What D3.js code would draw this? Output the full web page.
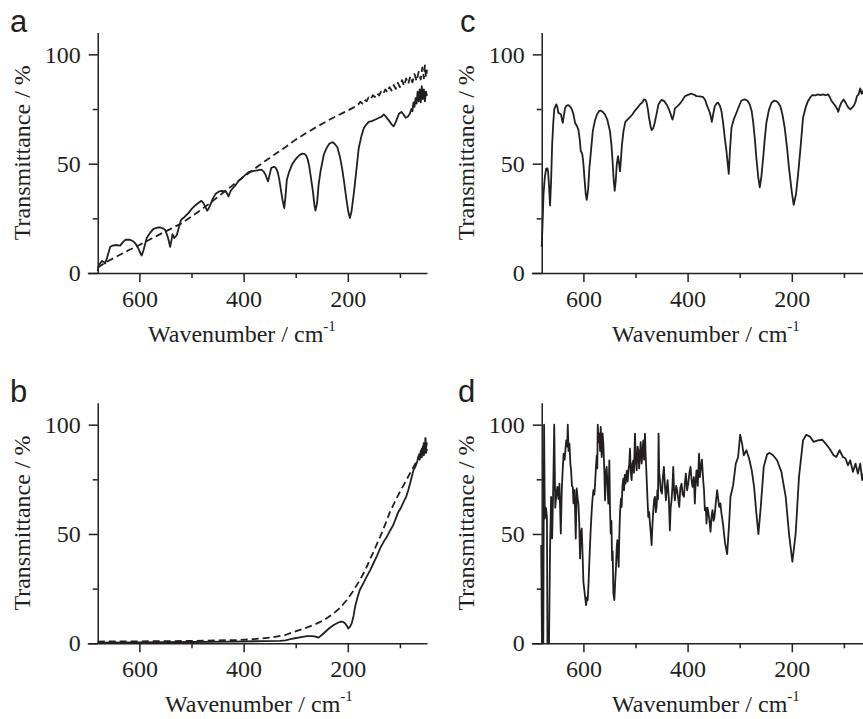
<!DOCTYPE html>
<html>
<head>
<meta charset="utf-8">
<script src="https://cdn.jsdelivr.net/npm/d3@7"></script>
<style>
  body { margin: 0; background: #fff; }
  .axis text { font-family: "Liberation Serif", "Times New Roman", serif; font-size: 24px; fill: #231f20; }
  .axis path, .axis line { stroke: #231f20; stroke-width: 1.5; }
  .title { font-family: "Liberation Serif", "Times New Roman", serif; font-size: 24px; fill: #231f20; }
  .plabel { font-family: "Liberation Sans", Arial, sans-serif; font-size: 31px; fill: #231f20; }
  .spec { fill: none; stroke: #231f20; stroke-width: 1.8; stroke-linejoin: round; }
</style>
</head>
<body>
<svg id="fig" width="863" height="719"></svg>
<script>
var svg = d3.select('#fig');

// axis values
var xDomain = [700, 48];
var yDomain = [0, 110];
var xMajor = [600, 400, 200];
var xMinor = [500, 300, 100];
var yMajor = [0, 50, 100];
var yMinor = [25, 75];
var xStart = 680;

// spectra: [wavenumber, transmittance]
var aSolid = [[680,1],[678,3.5],[672,5.5],[668,5],[666,4.3],[662,7],[656,12],[650,12.6],[643,12.8],[637,12.5],[632,14],[627,15.2],[618,15.2],[612,14.5],[608,13.6],[602,11.3],[598,9],[595.5,8],[592,10.5],[586,16],[579,18.5],[573,20.2],[565,20.8],[560,20.8],[554,20.3],[551,19.8],[547,17.5],[545,16],[541,12],[538,15.5],[536.5,17.8],[534,16.5],[533,16],[530,16.8],[528,17.5],[524,21],[520,24.3],[514,25.5],[506,27.4],[500,29.2],[493,30.9],[487,32],[481,33],[477,32],[473,30],[470,28.5],[467,29.5],[464,31.2],[459,34],[454,36.1],[448,37.2],[442,37.6],[434,37.3],[431,36],[429,35],[425,37.5],[420,39],[416,40],[410,42],[403,43.5],[396,45],[390,46.2],[384,46.5],[377,46.8],[372,47],[366,47.3],[362,46.5],[358,45],[355,43],[353,41.9],[350,45],[347,48],[343,48.5],[339,48.3],[336,47],[334,45.7],[331,42],[328,37.3],[325,33],[322,29.7],[320,34],[317,42.7],[313,46],[307,49.6],[302,51.5],[297,52.9],[292,54],[288,54.6],[284,54.5],[280,53.8],[277,52],[274,48.8],[271,44],[267,37.3],[264,31],[262,28.5],[259,32],[256,40.4],[252,47],[246,54.2],[241,57],[236,59],[232,59.6],[229,59.8],[225,59],[220,57.5],[215,53],[211,48],[207,41.5],[203,34.3],[199,28],[196,25.1],[193,28],[188,37.3],[184,46],[179,57.2],[174,62.5],[169,66.4],[164,68],[160,69.1],[154,69.5],[147,70.2],[140,71],[135,71.5],[131,72.5],[127,71.5],[121,69.7],[116,68],[112,67.1],[108,69],[102,72.8],[97,73.7],[93,72.5],[89,71],[85,71.5],[81,72.8],[78,75],[76,74],[74,78],[72,76],[70,80],[68,77.5],[66,83],[64,78.5],[62,84],[60,78],[58,85.5],[56,79.5],[54,84],[52,78.5],[50,83],[48,81]];

var aDashed = [[680,2.5],[660,5.5],[640,8],[620,10.5],[600,12.8],[580,15.3],[560,17.8],[540,20.2],[520,22.6],[500,25.8],[480,29.2],[460,32.8],[440,36.6],[420,40.3],[400,44],[380,47.5],[360,51],[340,54.3],[320,57.5],[300,61],[280,64],[260,66.8],[240,69.5],[220,72],[200,74.3],[184,76.3],[180,77],[176,78.3],[172,77.5],[168,79.3],[164,78.5],[160,80.3],[156,79.5],[152,81.3],[148,80.5],[144,82.3],[140,81.2],[136,83],[132,82],[128,84],[124,82.6],[120,85],[116,83.5],[112,86],[108,84.2],[104,87],[100,85],[96,88.2],[92,85.6],[88,89],[84,86.5],[80,90],[76,87.2],[72,91],[68,87.8],[64,92],[60,88.5],[57,94],[54,89],[52,95],[50,89.5],[48,93]];

var bSolid = [[680,0.3],[600,0.4],[500,0.6],[420,0.8],[360,1],[330,1.1],[320,1.3],[304,2.2],[290,2.8],[278,3.3],[268,3.3],[262,3],[256,2.6],[250,3.8],[243,5.3],[235,7],[227,8.4],[220,9.3],[214,9.9],[209,9.8],[205,9.1],[202,8],[199,6.8],[196,7.5],[192.5,9.1],[189,12.5],[186,16.7],[182,20.5],[177,24.4],[170,27.5],[164,30.4],[157,33.5],[151,36.5],[144,40],[138,43.4],[131,46.5],[125,48.7],[119,51.5],[113,54],[108,57],[103,60.1],[98,62],[93,64.7],[88,67],[84,70],[79,74.5],[74,79.2],[70,81],[67,83],[64,85.5],[62,84],[60,88],[58,85],[56,90],[54,86],[52,91],[50,87],[48,89]];

var bDashed = [[680,0.8],[600,0.9],[500,1.1],[412,1.5],[380,1.9],[348,2.6],[320,3.8],[304,5.2],[285,6.7],[265,8.4],[245,10.7],[227,13.7],[215,16.2],[202,19.8],[190,23.8],[177,28.9],[167,33.2],[158,38.1],[148,43.3],[138,48.7],[128,54.5],[119,60.1],[110,64.6],[100,69.3],[90,73.6],[81,77.6],[72,81.5],[66,84],[63,86.5],[60,86],[58,89],[56,87],[54,92],[52,88],[51,95],[50,89],[48,92]];

var cSolid = [[680,12],[678,25],[676.6,35.8],[674,44],[671.5,47.7],[669,47.8],[667.7,46.2],[666,40],[664,30.9],[662,42],[660,58.7],[658,68],[656,74.8],[652,77.1],[650,76],[648,73.3],[645,72.8],[643,72.5],[641,70],[639.6,68.7],[637.5,72],[635,75.6],[632,76.6],[628.7,76.8],[625,76],[622,74.8],[619,72.5],[616,68.7],[612,67],[609.6,65.6],[607,61],[605,55.7],[603,55],[602,54.2],[600,50],[598,43.5],[595.5,36],[593.6,33.5],[591,38],[588.5,48],[585,57],[582,64.9],[578,69.5],[574,72.5],[570,74],[566.8,74.3],[562,73.5],[558.5,72.5],[554,70],[549,64.9],[546,58],[544.4,52.6],[542,43],[540,37.6],[538,42],[536,49.6],[533.6,53.4],[531.5,50],[529.7,46.5],[528,52],[526,58.7],[523,65],[519.5,69.1],[515,70.3],[510.6,71.3],[506,72.5],[501,74.3],[496,75.6],[491.4,77.1],[487,78],[483.8,79.4],[481,79.2],[478.7,77.9],[476,74.5],[474,71],[471,67],[469,65.3],[466,66.2],[462.7,69.1],[459,73.5],[456,77.1],[452,78.6],[449.9,79.2],[445,78.6],[440.3,77.1],[436,75],[432.7,72.8],[430.5,71],[428.8,70.2],[426,73],[424.4,75.3],[420,76.2],[416,77.1],[410,79],[405,80.9],[398,81.6],[392.5,82],[387,81.5],[383,80.9],[377,80.8],[370,80.4],[366,79],[363.7,77.1],[360,75],[357.3,73.3],[355,71],[353.5,69.1],[351,72.5],[347.8,76.3],[344,77.6],[341.4,77.9],[338,76.5],[335,74],[332,69],[328.6,61.8],[325.4,55.7],[323,50],[321,45.3],[319,55],[315.8,66.4],[311,70.5],[306.2,73.3],[301,76.5],[296.7,78.9],[290.3,79.4],[285,78.8],[280.7,77.1],[277,74],[274.3,69.4],[271,61.5],[268,52.6],[264.5,44],[261.5,39.2],[258.5,44],[255,52.6],[252,61],[248.8,68.7],[244,74.5],[239,77.9],[234,78.8],[229.6,78.6],[226,77.8],[222,76.3],[218,72.5],[213.6,66.4],[209,57],[205.4,48],[200,37],[196.4,31.2],[192,36],[188,45],[183,58],[178.5,71],[173,76],[169,78.6],[164,80.5],[160.7,81.4],[155,81.2],[149.8,81.7],[145,81.4],[140.2,81.7],[135,81.3],[130.6,81.7],[127,80.5],[124.3,78.9],[120,77.5],[116,76.3],[113,75],[110.8,73.7],[108,76],[105,77.9],[100.6,79.4],[97,78],[94.2,76.8],[91,75.5],[87.8,74.8],[85,75.5],[81.5,76.3],[78,78],[75,80.9],[72,81.5],[68.7,84.4],[66,82],[64.2,82.4],[62,84],[60,82.5],[57,84],[54,82],[51,83.5],[48,82]];

var dSolid = [[681,45],[679.5,0],[677,0],[675.5,100],[674,57],[672,62],[670,58],[669,0],[666,0],[664,43],[662,67],[660,48],[658,70],[656,100],[654,62],[652,68],[650,71.5],[648,66],[646,73],[643.4,50.2],[641.5,70],[640,78],[638,86.7],[636,84],[633,92.8],[631,90],[630,100],[628.5,88],[626.8,91.3],[625,82],[623.6,79.1],[622,72],[620.4,71.5],[619,64],[617,70],[614.7,47.9],[612.8,70.8],[611,66],[609.6,63.9],[608,55],[606.4,38.8],[605,50],[603.2,52.5],[601.5,40],[600,28.1],[598.5,25],[596.8,21.3],[594.9,17.5],[593,21],[591.7,19.8],[590,28],[588.5,38],[586,52],[584,60.9],[582.5,66],[580.8,70],[579,68],[577.6,73],[576,80],[574.4,86],[573.3,80],[572.5,100],[571,92],[569.3,95.9],[568,88],[566.8,99],[564.9,85.2],[563.2,96],[561.7,91.3],[560,80],[558.5,65.4],[557,78],[555.3,80.7],[553.5,70],[552.1,63.9],[550.2,83.7],[549,62],[547.6,50.2],[546.2,56],[545,38],[543.8,42],[542.5,22.8],[540.6,19.8],[539,28],[537.4,35],[536,44],[534.9,47.2],[533.5,40],[532.3,35],[531,50],[529.7,60.1],[528,66],[526.6,62.4],[525,72],[523.4,75.3],[522,70],[520.5,77],[519,73],[518.3,76.1],[516.5,79],[515,74],[513.8,78.4],[512,82],[510.6,89],[509,78],[507.4,74.6],[506,82],[504.2,83.7],[503,78],[501,95.9],[499.5,84],[497.8,79.1],[496,90],[494.6,88.3],[493,80],[491.4,86.7],[490,92],[488.2,82.2],[486.5,88],[485,92.8],[483.5,84],[481.8,95.9],[480.5,86],[478.7,76.1],[477,66],[475.5,57.8],[473.8,60],[472.3,54.8],[470.5,50],[469.1,44.9],[467.5,54],[465.9,60.9],[464,66],[462.7,67],[461,60],[459.5,62.4],[458,70],[456.8,66],[455.7,95.9],[454.5,78],[453.1,74.6],[451.5,70],[449.3,68.5],[447.5,76],[445.5,80.7],[443.5,72],[441.6,65.4],[440,71],[438.4,74.6],[436,66],[434,51.7],[432.5,62],[430.8,65.4],[429,72],[427.6,80.7],[426,70],[424.4,65.4],[422,72],[420,70],[418,66],[416,62.4],[414,71],[411.6,73],[409.5,68],[407.1,67],[405,74],[403.3,77.6],[401,70],[398.8,73],[396.5,78],[394.4,80.7],[392.5,75],[390.5,71.5],[388,76],[386.1,63.9],[384.5,74],[382.9,79.1],[380.5,72],[378,86.7],[376.3,76],[374.6,80.7],[372.5,84],[370.1,74.6],[368.5,70],[366.9,60.9],[365,62],[363.7,54.8],[361.8,62],[359.9,59.4],[358,56],[356,51],[354,58],[352.2,60.9],[350.2,56],[348.4,57.8],[346,64],[343.3,70],[341.3,66],[339.4,62.4],[337,64],[335,59.4],[331.8,54],[328,45.6],[324.1,40.8],[320.3,54.8],[317.7,67],[312.6,72.3],[307.5,82.2],[303,85.2],[299.2,95.4],[295.4,91.3],[292.2,86],[287.1,88.3],[282,84.5],[276.9,79.1],[272.4,71.5],[268,59.4],[264.1,49.9],[259.6,62.4],[253.9,80.7],[247.5,86.4],[242.4,87.1],[236,86],[228.3,83.7],[220,78.4],[211.7,67],[205.4,50.2],[198.9,37.3],[192.6,50.2],[186.2,76.1],[178.5,92.8],[172.2,95.4],[164.5,94.4],[158.1,92.1],[149.8,92.8],[141.5,93.1],[135.1,91.3],[127.4,89],[119.8,86],[114.7,85.2],[108.3,88.3],[101.9,85.2],[96.8,84.5],[92.3,81.4],[87.9,83.7],[82.7,78.4],[77.6,82.2],[73.2,77.6],[68.7,82.2],[64.9,74.6],[60,80],[55,76],[50,79],[48,77]];

var plotW = 339.7;
var plotH = 240.5;

var panels = [
    {name: 'a', left: 87.3, base: 273, labelX: 10, titleX: 148, lines: [aSolid, aDashed]},
    {name: 'b', left: 87.3, base: 643.3, labelX: 10, titleX: 165, lines: [bSolid, bDashed]},
    {name: 'c', left: 531.3, base: 273, labelX: 460, titleX: 612, lines: [cSolid]},
    {name: 'd', left: 531.3, base: 643.3, labelX: 458, titleX: 612, lines: [dSolid]}
];

panels.forEach(function(p) {
    var x = d3.scaleLinear().domain(xDomain).range([p.left, p.left + plotW]);
    var y = d3.scaleLinear().domain(yDomain).range([p.base, p.base - plotH]);
    var g = svg.append('g');
    var yAxisX = x(xStart);

    var line = d3.line()
        .x(function(d) { return x(d[0]); })
        .y(function(d) { return y(d[1]); });

    p.lines.forEach(function(data, i) {
        g.append('path')
            .datum(data)
            .attr('class', 'spec')
            .attr('d', line)
            .style('stroke-dasharray', i == 1 ? '7,4' : null);
    });

    // x axis
    g.append('g')
        .attr('class', 'axis')
        .attr('transform', 'translate(0,' + p.base + ')')
        .call(d3.axisBottom(x).tickValues(xMajor).tickSize(9).tickSizeOuter(0).tickPadding(8));

    g.append('g')
        .attr('class', 'axis')
        .attr('transform', 'translate(0,' + p.base + ')')
        .call(d3.axisBottom(x).tickValues(xMinor).tickSize(5).tickFormat(''))
        .select('.domain').remove();

    // y axis
    g.append('g')
        .attr('class', 'axis')
        .attr('transform', 'translate(' + yAxisX + ',0)')
        .call(d3.axisLeft(y).tickValues(yMajor).tickSize(9).tickSizeOuter(0).tickPadding(8));

    g.append('g')
        .attr('class', 'axis')
        .attr('transform', 'translate(' + yAxisX + ',0)')
        .call(d3.axisLeft(y).tickValues(yMinor).tickSize(5).tickFormat(''))
        .select('.domain').remove();

    g.selectAll('.axis text').attr('fill', '#231f20');

    // titles
    var xt = g.append('text')
        .attr('class', 'title')
        .attr('x', p.titleX)
        .attr('y', p.base + 69);
    xt.append('tspan').text('Wavenumber / cm');
    xt.append('tspan').attr('dy', -11).style('font-size', '15px').text('-1');

    g.append('text')
        .attr('class', 'title')
        .attr('text-anchor', 'middle')
        .attr('transform', 'translate(' + (yAxisX - 68) + ',' + (p.base - plotH / 2) + ') rotate(-90)')
        .text('Transmittance / %');

    g.append('text')
        .attr('class', 'plabel')
        .attr('x', p.labelX)
        .attr('y', p.base - 241)
        .text(p.name);
});
</script>
</body>
</html>
